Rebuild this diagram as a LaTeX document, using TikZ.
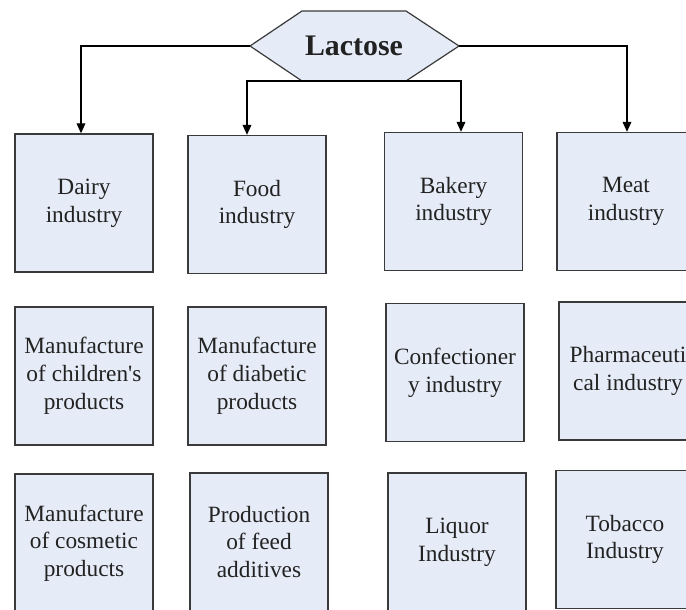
\documentclass[tikz,border=0pt]{standalone}
\usepackage{fontspec}
\setmainfont{Liberation Serif}
\usetikzlibrary{arrows.meta,calc}
\definecolor{boxfill}{HTML}{E6ECF7}
\definecolor{boxline}{HTML}{3A3A3A}
\definecolor{txt}{HTML}{222222}
\tikzset{
  indbox/.style={draw=boxline, line width=1pt, fill=boxfill, minimum width=103.5pt, minimum height=103.5pt,
    inner sep=0pt, align=center, text=txt, font=\fontsize{17.5}{20.8}\selectfont},
  arr/.style={draw=black, line width=1pt, -{Triangle[length=7.5pt,width=6.5pt]}}
}
\begin{document}
\begin{tikzpicture}[x=0.75pt,y=-0.75pt]
\useasboundingbox (0,0) rectangle (686,610);
\clip (0,0) rectangle (686,610);
% hexagon
\coordinate (hL) at (250,46);
\coordinate (hR) at (459,46);
\coordinate (hTL) at (302,11);
\coordinate (hTR) at (406,11);
\coordinate (hBL) at (302,81);
\coordinate (hBR) at (406,81);
\fill[boxfill] (hL) -- (hTL) -- (hTR) -- (hR) -- (hBR) -- (hBL) -- cycle;
\draw[boxline, line width=0.9pt, line join=miter] (hL) -- (hTL) -- (hTR) -- (hR) -- (hBR) -- (hBL) -- cycle;
\node (hex) at (354,46) [text=txt, font=\fontsize{22.4}{26}\bfseries\selectfont, inner sep=0pt] {Lactose};
\coordinate (hS) at (354,81);
% boxes row 1
\node[indbox] (dairy) at (84,203) {Dairy\\industry};
\node[indbox] (food) at (257,204.5) {Food\\industry};
\node[indbox] (bakery) at (453.5,201.5) {Bakery\\industry};
\node[indbox] (meat) at (626,201.5) {Meat\\industry};
% row 2
\node[indbox] (child) at (84,376) {Manufacture\\of children\textquotesingle s\\products};
\node[indbox] (diab) at (257,376) {Manufacture\\of diabetic\\products};
\node[indbox] (conf) at (455,372.5) {Confectioner\\y industry};
\node[indbox] (pharm) at (628,371) {Pharmaceuti\\cal industry};
% row 3
\node[indbox] (cosm) at (84,543) {Manufacture\\of cosmetic\\products};
\node[indbox] (feed) at (259,542) {Production\\of feed\\additives};
\node[indbox] (liq) at (457,542) {Liquor\\Industry};
\node[indbox] (tob) at (625,539.5) {Tobacco\\Industry};
% connectors
\coordinate (c1) at (81,46);
\coordinate (c4) at (627,46);
\coordinate (c2) at (247,81);
\coordinate (c3) at (461,81);
\draw[arr] (hL) -- (c1) -- (c1 |- dairy.north);
\draw[arr] (hR) -- (c4) -- (c4 |- meat.north);
\draw[arr] (hS) -- (c2) -- (c2 |- food.north);
\draw[arr] (hS) -- (c3) -- (c3 |- bakery.north);
\end{tikzpicture}
\end{document}
